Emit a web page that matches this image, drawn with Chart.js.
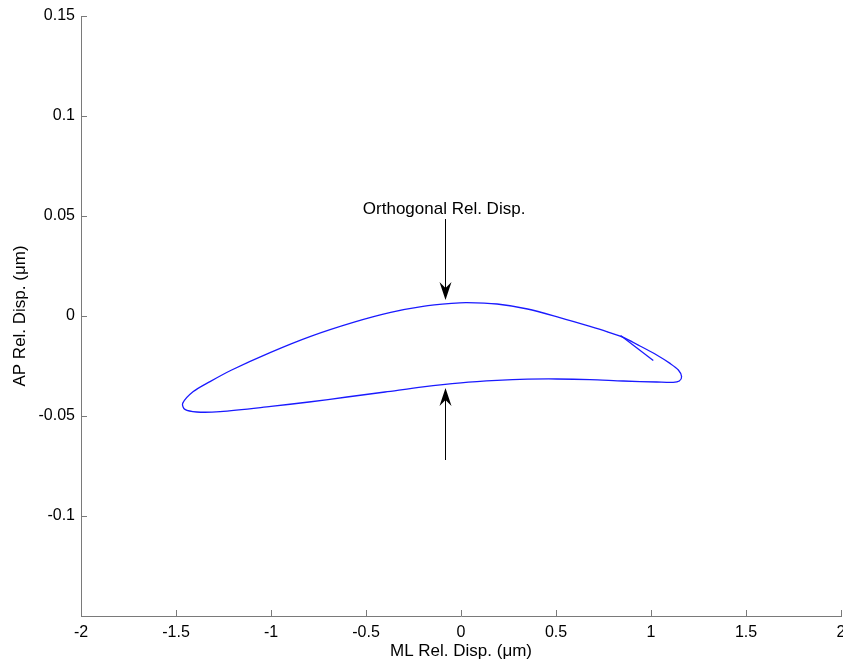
<!DOCTYPE html>
<html>
<head>
<meta charset="utf-8">
<script src="https://cdn.jsdelivr.net/npm/chart.js@4/dist/chart.umd.min.js"></script>
<style>
  html, body { margin: 0; padding: 0; background: #fff; }
  #wrap { width: 843px; height: 664px; }
</style>
</head>
<body>
<div id="wrap"><canvas id="loop"></canvas></div>
<script>
// relative displacement loop
const mlDisp = [
  0.942, 0.854, 0.767, 0.679, 0.52, 0.35, 0.19, 0.03, -0.05, -0.2, -0.37, -0.567,
  -0.795, -1.005, -1.207, -1.321, -1.409, -1.465, -1.453, -1.391, -1.268, -1.0, -0.8,
  -0.6, -0.4, -0.2, 0.0, 0.19, 0.35, 0.504, 0.679, 0.854, 1.03, 1.117, 1.149, 1.161,
  1.144, 1.1, 1.03, 0.942, 0.854, 0.767,
]
const apDisp = [
  -0.015, -0.0107, -0.0078, -0.0052, -0.0008, 0.0035, 0.006, 0.0067, 0.0063, 0.0048,
  0.0018, -0.0032, -0.0103, -0.0183, -0.027, -0.0328, -0.0378, -0.0437, -0.0467, -0.048,
  -0.0478, -0.0452, -0.043, -0.0405, -0.038, -0.0354, -0.0334, -0.0322, -0.0316, -0.0315,
  -0.0318, -0.0325, -0.033, -0.0332, -0.0325, -0.0303, -0.027, -0.0237, -0.0195, -0.015,
  -0.0107, -0.0078,
]
// short start-up trace inside the right end of the loop
const stubMl = [0.84, 1.012]
const stubAp = [-0.0098, -0.0223]

// annotation arrows (data units)
const arrowX = [-0.084, -0.084]
const arrowFrom = [0.0485, -0.072]
const arrowTo = [0.008, -0.036]
const noteText = 'Orthogonal Rel. Disp.'
const notePos = [-0.089, 0.0535]

const FONT = '"Liberation Sans", Arial, Helvetica, sans-serif'
const AXIS_GREY = '#7a7a7a'
const LINE_BLUE = '#1a1aff'

const toPoints = (xs, ys) => xs.map((x, i) => ({ x: x, y: ys[i] }))

// matlab style ticks pointing into the axes
const inwardTicks = {
  id: 'inwardTicks',
  afterDatasetsDraw(chart) {
    const ctx = chart.ctx
    const area = chart.chartArea
    const xs = chart.scales.x
    const ys = chart.scales.y
    ctx.save()
    ctx.strokeStyle = AXIS_GREY
    ctx.lineWidth = 1
    ctx.beginPath()
    xs.ticks.forEach((t) => {
      const px = Math.round(xs.getPixelForValue(t.value)) + 0.5
      ctx.moveTo(px, area.bottom)
      ctx.lineTo(px, area.bottom - 6)
    })
    ys.ticks.forEach((t) => {
      const py = Math.round(ys.getPixelForValue(t.value)) + 0.5
      ctx.moveTo(area.left, py)
      ctx.lineTo(area.left + 6, py)
    })
    ctx.stroke()
    ctx.restore()
  },
}

const arrowNotes = {
  id: 'arrowNotes',
  afterDatasetsDraw(chart) {
    const ctx = chart.ctx
    const xs = chart.scales.x
    const ys = chart.scales.y
    ctx.save()
    ctx.strokeStyle = '#000'
    ctx.fillStyle = '#000'
    ctx.lineWidth = 1
    arrowX.forEach((ax, i) => {
      const px = Math.round(xs.getPixelForValue(ax)) + 0.5
      const y0 = ys.getPixelForValue(arrowFrom[i])
      const y1 = ys.getPixelForValue(arrowTo[i])
      const dir = y1 > y0 ? 1 : -1
      ctx.beginPath()
      ctx.moveTo(px, y0)
      ctx.lineTo(px, y1 - dir * 10)
      ctx.stroke()
      ctx.beginPath()
      ctx.moveTo(px, y1)
      ctx.lineTo(px - 6, y1 - dir * 18)
      ctx.lineTo(px, y1 - dir * 12)
      ctx.lineTo(px + 6, y1 - dir * 18)
      ctx.closePath()
      ctx.fill()
    })
    ctx.font = '17px ' + FONT
    ctx.textAlign = 'center'
    ctx.textBaseline = 'middle'
    ctx.fillText(noteText, xs.getPixelForValue(notePos[0]), ys.getPixelForValue(notePos[1]))
    ctx.restore()
  },
}

new Chart(document.getElementById('loop'), {
  type: 'scatter',
  data: {
    datasets: [
      {
        data: toPoints(mlDisp, apDisp),
        showLine: true,
        borderColor: LINE_BLUE,
        borderWidth: 1.3,
        pointRadius: 0,
        tension: 0.3,
      },
      {
        data: toPoints(stubMl, stubAp),
        showLine: true,
        borderColor: LINE_BLUE,
        borderWidth: 1.3,
        pointRadius: 0,
      },
    ],
  },
  options: {
    responsive: true,
    maintainAspectRatio: false,
    animation: false,
    layout: { padding: { top: 16, right: 2, left: 0, bottom: 0 } },
    plugins: { legend: { display: false }, tooltip: { enabled: false } },
    scales: {
      x: {
        type: 'linear',
        min: -2,
        max: 2,
        grid: { display: false, drawTicks: false },
        border: { display: true, color: AXIS_GREY, width: 1 },
        ticks: {
          stepSize: 0.5,
          padding: 7,
          color: '#000',
          font: { family: FONT, size: 16 },
          maxRotation: 0,
          callback: (v) => String(+v.toFixed(2)),
        },
        title: {
          display: true,
          text: 'ML Rel. Disp. (μm)',
          color: '#000',
          font: { family: FONT, size: 17 },
          padding: { top: 0, bottom: 2 },
        },
        afterFit: (s) => {
          s.height = 48
          s.paddingLeft = 0
          s.paddingRight = 0
        },
      },
      y: {
        type: 'linear',
        min: -0.15,
        max: 0.15,
        grid: { display: false, drawTicks: false },
        border: { display: true, color: AXIS_GREY, width: 1 },
        ticks: {
          stepSize: 0.05,
          padding: 6,
          color: '#000',
          font: { family: FONT, size: 16 },
          callback: (v) => (Math.abs(v + 0.15) < 1e-9 ? '' : String(+v.toFixed(2))),
        },
        title: {
          display: true,
          text: 'AP Rel. Disp. (μm)',
          color: '#000',
          font: { family: FONT, size: 17 },
          padding: { top: 10, bottom: 0 },
        },
        afterFit: (s) => {
          s.width = 81
          s.paddingTop = 0
          s.paddingBottom = 0
        },
      },
    },
  },
  plugins: [inwardTicks, arrowNotes],
})
</script>
</body>
</html>
